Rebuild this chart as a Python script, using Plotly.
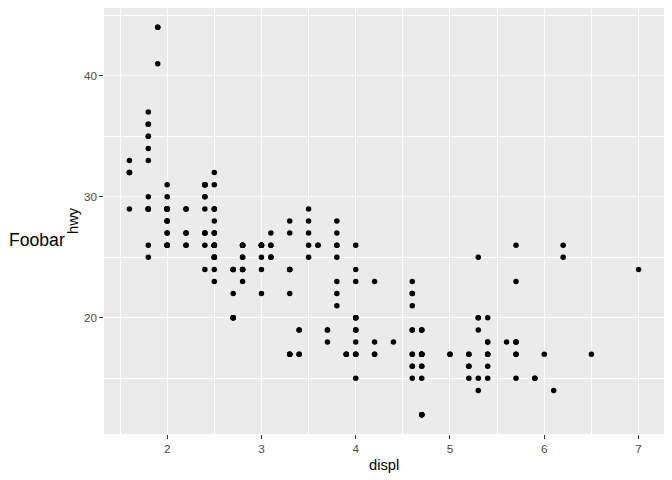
import plotly.graph_objects as go

# mpg dataset: engine displacement (litres) and highway mpg
displ = [1.8, 1.8, 2.0, 2.0, 2.8, 2.8, 3.1, 1.8, 1.8, 2.0, 2.0, 2.8, 2.8, 3.1, 3.1, 2.8, 3.1, 4.2,
         5.3, 5.3, 5.3, 5.7, 6.0, 5.7, 5.7, 6.2, 6.2, 7.0, 5.3, 5.3, 5.7, 6.5, 2.4, 2.4, 3.1, 3.5, 3.6,
         2.4, 3.0, 3.3, 3.3, 3.3, 3.3, 3.3, 3.8, 3.8, 3.8, 4.0, 3.7, 3.7, 3.9, 3.9, 4.7, 4.7, 4.7, 5.2,
         5.2, 3.9, 4.7, 4.7, 4.7, 5.2, 5.7, 5.9, 4.7, 4.7, 4.7, 4.7, 4.7, 5.2, 5.2, 5.7, 5.9, 4.6, 5.4,
         5.4, 4.0, 4.0, 4.0, 4.0, 4.6, 5.0, 4.2, 4.2, 4.6, 4.6, 4.6, 5.4, 5.4, 3.8, 3.8, 4.0, 4.0, 4.6,
         4.6, 4.6, 4.6, 5.4, 1.6, 1.6, 1.6, 1.6, 1.6, 1.8, 1.8, 1.8, 2.0, 2.4, 2.4, 2.4, 2.4, 2.5, 2.5,
         3.3, 2.0, 2.0, 2.0, 2.0, 2.7, 2.7, 2.7, 3.0, 3.7, 4.0, 4.7, 4.7, 4.7, 5.7, 6.1, 4.0, 4.2, 4.4,
         4.6, 5.4, 5.4, 5.4, 4.0, 4.0, 4.6, 5.0, 2.4, 2.4, 2.5, 2.5, 3.5, 3.5, 3.0, 3.0, 3.5, 3.3, 3.3,
         4.0, 5.6, 3.1, 3.8, 3.8, 3.8, 5.3, 2.5, 2.5, 2.5, 2.5, 2.5, 2.5, 2.2, 2.2, 2.5, 2.5, 2.5, 2.5,
         2.5, 2.5, 2.7, 2.7, 3.4, 3.4, 4.0, 4.7, 2.2, 2.2, 2.4, 2.4, 3.0, 3.0, 3.5, 2.2, 2.2, 2.4, 2.4,
         3.0, 3.0, 3.3, 1.8, 1.8, 1.8, 1.8, 1.8, 4.7, 5.7, 2.7, 2.7, 2.7, 3.4, 3.4, 4.0, 4.0, 2.0, 2.0,
         2.0, 2.0, 2.8, 1.9, 2.0, 2.0, 2.0, 2.0, 2.5, 2.5, 2.8, 2.8, 1.9, 1.9, 2.0, 2.0, 2.5, 2.5, 1.8,
         1.8, 1.8, 2.0, 2.0, 2.8, 2.8, 3.6]
hwy = [29, 29, 31, 30, 26, 26, 27, 26, 25, 28, 27, 25, 25, 25, 25, 24, 25, 23,
       20, 15, 20, 17, 17, 26, 23, 26, 25, 24, 19, 14, 15, 17, 27, 30, 26, 29, 26,
       24, 24, 22, 24, 24, 24, 17, 22, 21, 23, 23, 19, 18, 17, 17, 19, 19, 12, 17,
       17, 17, 17, 12, 17, 16, 18, 15, 16, 12, 17, 17, 16, 15, 16, 17, 15, 17, 17,
       18, 17, 19, 17, 19, 19, 17, 17, 17, 16, 16, 17, 15, 17, 26, 25, 26, 24, 21,
       22, 23, 22, 20, 33, 32, 32, 29, 32, 34, 36, 36, 29, 26, 27, 30, 31, 26, 26,
       28, 26, 29, 28, 27, 24, 24, 24, 22, 19, 20, 17, 12, 19, 18, 14, 15, 18, 18,
       15, 17, 16, 18, 17, 19, 19, 17, 29, 27, 31, 32, 27, 26, 26, 25, 25, 17, 17,
       20, 18, 26, 26, 27, 28, 25, 25, 24, 27, 25, 26, 23, 26, 26, 26, 26, 27, 25,
       25, 27, 20, 20, 19, 17, 20, 17, 29, 27, 31, 31, 26, 26, 28, 27, 29, 31, 31,
       26, 26, 27, 30, 33, 35, 37, 35, 15, 18, 20, 20, 22, 17, 19, 18, 20, 29, 26,
       29, 29, 24, 44, 29, 26, 29, 29, 29, 29, 23, 24, 44, 41, 29, 26, 28, 29, 29,
       29, 29, 28, 29, 26, 26, 26]

x_title = "displ"
y_title = "hwy"
tag = "Foobar"

FONT = "Liberation Sans, Arial, sans-serif"

fig = go.Figure(go.Scatter(
    x=displ, y=hwy, mode="markers",
    marker=dict(color="black", size=5.5, line=dict(width=0)),
    hoverinfo="x+y",
))

axis_common = dict(
    showgrid=True, gridcolor="white", gridwidth=1.2,
    zeroline=False, showline=False,
    ticks="outside", ticklen=3.7, tickwidth=1.07, tickcolor="#333333",
    tickfont=dict(family=FONT, size=11.7, color="#4D4D4D"),
    fixedrange=True,
)

fig.update_xaxes(
    range=[1.33, 7.27], tick0=0, dtick=1,
    minor=dict(dtick=0.5, tick0=0, showgrid=True, gridcolor="white", gridwidth=0.6, ticks=""),
    **axis_common,
)
fig.update_yaxes(
    range=[10.4, 45.6], tick0=0, dtick=10,
    minor=dict(dtick=5, tick0=0, showgrid=True, gridcolor="white", gridwidth=0.6, ticks=""),
    **axis_common,
)

W, H = 672, 480
L, R, T, B = 104, 8, 8, 46
pw, ph = W - L - R, H - T - B

def px_x(p):
    return (p - L) / pw

def px_y(p):
    return (H - B - p) / ph

fig.update_layout(
    width=W, height=H,
    margin=dict(l=L, r=R, t=T, b=B, pad=0),
    plot_bgcolor="#EBEBEB", paper_bgcolor="white",
    showlegend=False,
    font=dict(family=FONT),
    annotations=[
        dict(text=x_title, xref="paper", yref="paper", x=0.5, y=px_y(465),
             xanchor="center", yanchor="middle", showarrow=False,
             font=dict(family=FONT, size=14.7, color="black")),
        dict(text=y_title, xref="paper", yref="paper", x=px_x(73), y=0.5,
             xanchor="center", yanchor="middle", textangle=-90, showarrow=False,
             font=dict(family=FONT, size=14.7, color="black")),
        dict(text=tag, xref="paper", yref="paper", x=px_x(7), y=px_y(240),
             xanchor="left", yanchor="middle", showarrow=False,
             font=dict(family=FONT, size=17.6, color="black")),
    ],
)

fig.write_html(
    "out.html",
    config={"displayModeBar": False},
    post_script="document.body.style.margin='0';document.body.style.padding='0';",
)
